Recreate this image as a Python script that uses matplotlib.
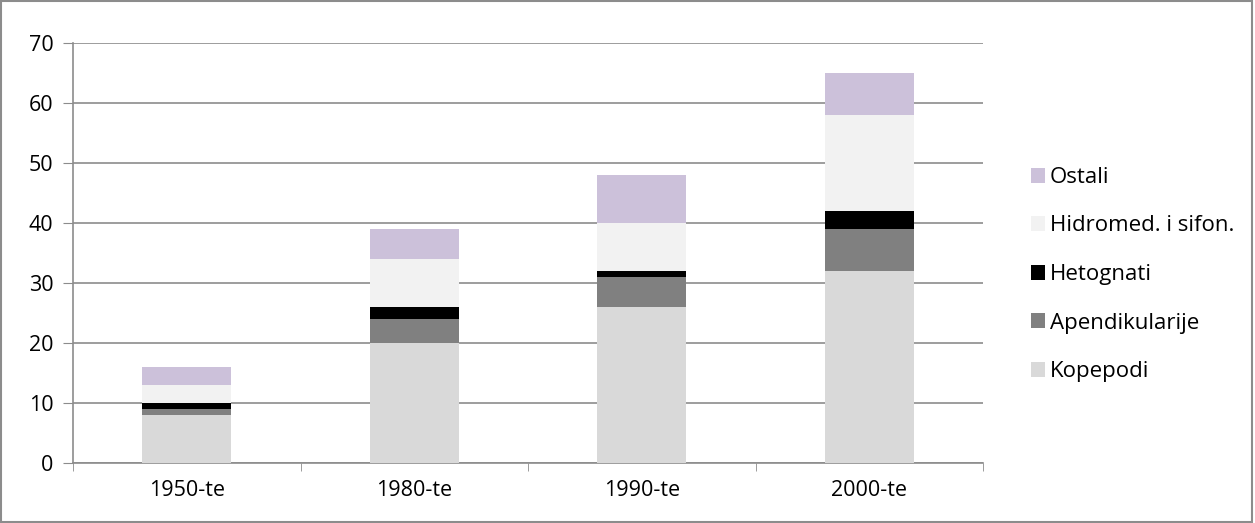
import numpy as np
import matplotlib.pyplot as plt
from matplotlib.patches import Patch, Rectangle

# data
periods = ['1950-te', '1980-te', '1990-te', '2000-te']
kopepodi = [8, 20, 26, 32]
apendikularije = [1, 4, 5, 7]
hetognati = [1, 2, 1, 3]
hidromed = [3, 8, 8, 16]
ostali = [3, 5, 8, 7]

series = [
    ('Kopepodi', kopepodi, '#d9d9d9'),
    ('Apendikularije', apendikularije, '#808080'),
    ('Hetognati', hetognati, '#000000'),
    ('Hidromed. i sifon.', hidromed, '#f2f2f2'),
    ('Ostali', ostali, '#ccc1da'),
]

plt.rcParams['font.family'] = ['Open Sans', 'DejaVu Sans']
fs = 15.5

fig = plt.figure(figsize=(12.55, 5.23), dpi=100)
ax = fig.add_axes([73 / 1255, 1 - 463 / 523, 910 / 1255, 420 / 523])

x = np.arange(len(periods))
bottom = np.zeros(len(periods))
for name, vals, col in series:
    ax.bar(x, vals, width=0.39, bottom=bottom, color=col, label=name, zorder=3)
    bottom += np.array(vals)

ax.set_xlim(-0.5, len(periods) - 0.5)
ax.set_ylim(0, 70)
ax.set_yticks(range(0, 71, 10))
ax.yaxis.grid(True, color='#8c8c8c', linewidth=1.2, zorder=0)
ax.set_axisbelow(True)

ax.set_xticks(x)
ax.set_xticklabels(periods)
ax.set_xticks(np.arange(-0.5, len(periods)), minor=True)
ax.tick_params(axis='x', which='major', length=0, labelsize=fs, pad=12)
ax.tick_params(axis='x', which='minor', length=6, color='#8c8c8c')
ax.tick_params(axis='y', length=7, color='#8c8c8c', labelsize=fs, pad=7)

for s in ['top', 'right']:
    ax.spines[s].set_visible(False)
ax.spines['left'].set_color('#8c8c8c')
ax.spines['bottom'].set_color('#8c8c8c')
ax.spines['left'].set_linewidth(1.2)
ax.spines['bottom'].set_linewidth(1.2)

handles = [Patch(facecolor=c, label=n) for n, v, c in series][::-1]
fig.legend(handles=handles, loc='upper left', bbox_to_anchor=(1022 / 1255, 1 - 158 / 523),
           frameon=False, fontsize=16, handlelength=0.65, handleheight=0.65,
           handletextpad=0.2, labelspacing=1.24, borderaxespad=0)

# outer border
fig.patches.append(Rectangle((0.001, 0.002), 0.997, 0.996, transform=fig.transFigure,
                             fill=False, edgecolor='#8c8c8c', linewidth=1.5))

plt.savefig('out.png', dpi=100)
